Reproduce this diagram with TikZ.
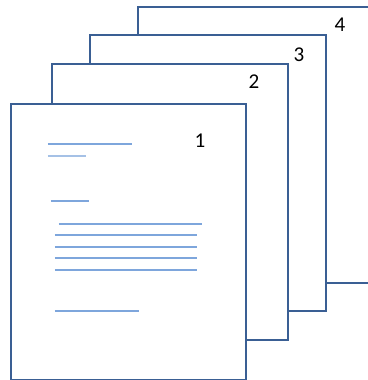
\documentclass[tikz,border=0pt]{standalone}
\usepackage{fontspec}
\setsansfont{Carlito}
\definecolor{sheetblue}{HTML}{3A5F94}
\definecolor{ruleblue}{HTML}{7EA6DC}
\begin{document}
\begin{tikzpicture}[
    x=0.02cm, y=-0.02cm,
    sheet/.style={draw=sheetblue,fill=white,line width=1.4pt,anchor=north west,inner sep=0pt,
      minimum width=4.72cm,minimum height=5.52cm},
    rule/.style={draw=ruleblue,line width=0.8pt},
    pageno/.style={font=\sffamily\fontsize{12}{14}\selectfont,inner sep=0pt},
  ]
  \useasboundingbox (0,0) rectangle (368,380);
  \clip (0,0) rectangle (368,380);
  % sheets, back to front
  \node[sheet] (p4) at (137,6) {};
  \node[pageno] (n4) at (340,25) {4};
  \node[sheet] (p3) at (89,34) {};
  \node[pageno] (n3) at (299,55) {3};
  \node[sheet] (p2) at (51,63) {};
  \node[pageno] (n2) at (254,82) {2};
  \node[sheet,minimum width=4.7cm] (p1) at (10,103) {};
  \node[pageno] (n1) at (200,141) {1};
  % text lines on the front sheet
  \draw[rule] (48,144) -- (132,144);
  \draw[rule,draw=ruleblue!70] (48,156) -- (86,156);
  \draw[rule] (51,201) -- (89,201);
  \draw[rule] (59,224) -- (202,224);
  \foreach \y in {235,247,258,270}
    \draw[rule] (55,\y) -- (197,\y);
  \draw[rule] (55,311) -- (139,311);
\end{tikzpicture}
\end{document}
